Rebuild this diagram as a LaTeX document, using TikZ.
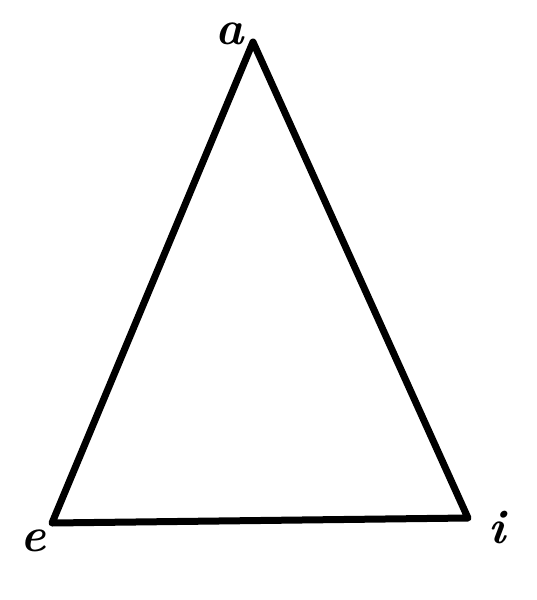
\documentclass[tikz,border=0pt]{standalone}
\begin{document}
\begin{tikzpicture}[x=1pt,y=-1pt,
  edge/.style={line width=7pt,line join=round,line cap=round},
  lbl/.style={font=\fontsize{48}{48}\selectfont\bfseries\itshape,inner sep=0pt}]
\useasboundingbox (0,0) rectangle (536,600);
\coordinate (A) at (253,42);
\coordinate (E) at (52,523);
\coordinate (I) at (468,518);
\draw[edge] (A) -- (E) -- (I) -- cycle;
\node[lbl] (la) at (230,34) {a};
\node[lbl] (le) at (33,541) {e};
\node[lbl] (li) at (497,528) {i};
\end{tikzpicture}
\end{document}
